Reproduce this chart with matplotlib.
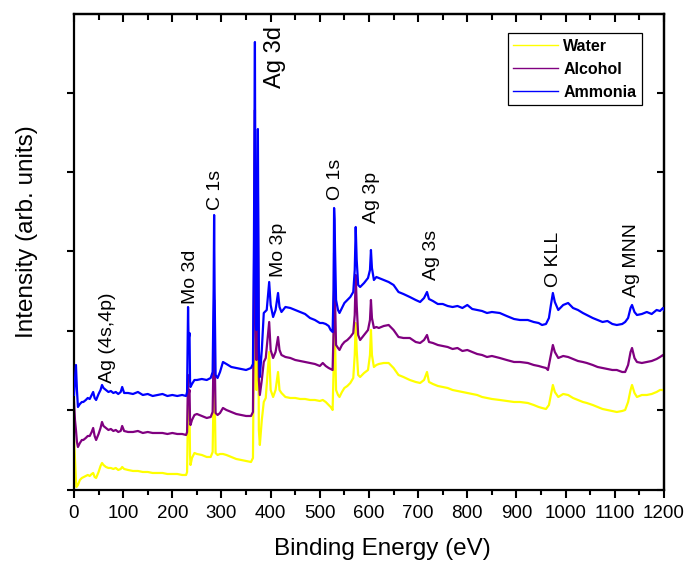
import matplotlib
matplotlib.use("Agg")
import matplotlib.pyplot as plt
from matplotlib.ticker import MultipleLocator, NullFormatter

plt.rcParams['font.family'] = ['Liberation Sans', 'DejaVu Sans']

# --- XPS survey spectra (arb. units) ---
water_E = [0, 2, 4, 5, 8, 12, 16, 20, 24, 28, 32, 36, 39, 42, 45, 50, 54, 57, 60, 65,
           70, 75, 80, 85, 90, 95, 98, 102, 110, 120, 130, 140, 150, 160, 170, 180, 190,
           200, 210, 220, 228, 230, 232, 233, 235, 236, 237, 240, 245, 250, 260, 270,
           278, 282, 284, 285, 286, 288, 292, 297, 303, 310, 320, 330, 340, 350, 360,
           364, 366, 368, 369, 371, 372, 374, 375, 376, 378, 382, 386, 390, 397, 400,
           405, 410, 415, 418, 422, 430, 440, 450, 460, 470, 480, 490, 500, 506, 512,
           518, 522, 526, 528, 529, 530, 531, 533, 537, 540, 545, 550, 556, 562, 568,
           571, 573, 575, 578, 582, 590, 598, 602, 604, 606, 610, 615, 620, 630, 640,
           650, 660, 670, 683, 695, 704, 712, 718, 722, 730, 740, 750, 760, 770, 780,
           790, 800, 810, 820, 830, 840, 850, 866, 880, 895, 907, 923, 935, 945, 952,
           960, 966, 970, 974, 978, 985, 995, 1005, 1015, 1025, 1035, 1043, 1055, 1065,
           1075, 1085, 1095, 1104, 1115, 1121, 1127, 1132, 1135, 1140, 1145, 1155, 1165,
           1175, 1185, 1192, 1198, 1200]
water_I = [52, 30, 10, 3, 5, 10, 12, 13, 14, 15, 14, 16, 17, 13, 12, 18, 24, 27, 25, 23,
           22, 22, 21, 22, 20, 21, 23, 21, 20, 19, 19, 18, 18, 17, 17, 17, 16,
           16, 16, 15, 15, 18, 85, 70, 75, 35, 25, 32, 37, 36, 35, 33,
           33, 38, 100, 140, 100, 37, 35, 36, 36, 35, 33, 31, 30, 29, 28,
           32, 150, 330, 150, 100, 150, 260, 150, 60, 45, 70, 88, 92, 138, 100,
           93, 100, 118, 100, 97, 93, 92, 92, 91, 91, 90, 90, 89, 90, 88,
           85, 83, 80, 120, 195, 180, 150, 100, 95, 93, 98, 102, 104, 107, 112,
           135, 167, 140, 115, 113, 117, 120, 135, 160, 135, 123, 125, 126, 127, 127,
           122, 115, 113, 110, 108, 107, 110, 118, 108, 106, 104, 103, 102, 100, 99,
           98, 97, 96, 95, 93, 92, 91, 90, 89, 88, 88, 87, 85, 83, 82,
           81, 85, 95, 105, 98, 93, 96, 95, 92, 90, 88, 87, 85, 83,
           81, 80, 79, 78, 79, 80, 88, 100, 105, 97, 93, 95, 95,
           96, 98, 100, 100, 99]

alcohol_E = [0, 2, 4, 6, 8, 12, 16, 19, 24, 28, 32, 36, 39, 42, 45, 50, 54, 57, 60, 65,
             70, 75, 80, 85, 90, 95, 98, 102, 110, 120, 130, 140, 150, 160, 170, 180, 190,
             200, 210, 220, 228, 230, 232, 233, 235, 236, 237, 240, 245, 250, 260, 270,
             278, 282, 284, 285, 286, 288, 292, 297, 303, 310, 320, 330, 340, 350, 360,
             364, 366, 368, 369, 371, 372, 374, 375, 376, 378, 382, 386, 390, 397, 400,
             405, 410, 415, 418, 422, 430, 440, 450, 460, 470, 480, 490, 500, 506, 512,
             518, 522, 526, 528, 529, 530, 531, 533, 537, 540, 545, 550, 556, 562, 568,
             571, 573, 575, 578, 582, 590, 598, 602, 604, 606, 610, 615, 620, 630, 640,
             650, 660, 670, 683, 695, 704, 712, 718, 722, 730, 740, 750, 760, 770, 780,
             790, 800, 810, 820, 830, 840, 850, 866, 880, 895, 907, 923, 935, 945, 952,
             960, 964, 968, 971, 974, 978, 985, 995, 1005, 1015, 1025, 1035, 1043, 1055,
             1065, 1075, 1085, 1095, 1104, 1115, 1121, 1127, 1132, 1135, 1140, 1145, 1155,
             1165, 1175, 1185, 1192, 1198, 1200]
alcohol_I = [88, 70, 60, 48, 43, 47, 50, 50, 52, 54, 54, 58, 62, 54, 50, 56, 62, 68, 64, 62,
             60, 61, 59, 60, 58, 59, 64, 59, 58, 58, 59, 57, 58, 57, 57, 57, 56,
             57, 56, 56, 55, 58, 115, 95, 100, 70, 65, 70, 75, 76, 74, 72,
             73, 78, 140, 190, 140, 77, 75, 77, 82, 80, 78, 76, 75, 74, 74,
             78, 200, 380, 200, 130, 200, 300, 200, 110, 95, 110, 128, 132, 168, 140,
             132, 138, 153, 140, 135, 133, 132, 130, 129, 128, 127, 126, 124, 127, 124,
             122, 121, 120, 160, 237, 225, 190, 145, 142, 140, 145, 148, 150, 153, 157,
             175, 215, 185, 155, 150, 155, 160, 170, 190, 172, 162, 163, 162, 164, 165,
             160, 153, 152, 152, 148, 147, 150, 155, 148, 147, 145, 144, 143, 141, 142,
             139, 140, 138, 136, 135, 133, 134, 132, 130, 128, 128, 127, 125, 124, 123,
             122, 120, 130, 138, 145, 138, 132, 134, 133, 131, 129, 128, 127, 125,
             123, 122, 121, 120, 120, 118, 118, 125, 138, 142, 132, 128, 127,
             128, 129, 131, 133, 135, 134]

ammonia_E = [0, 2, 4, 6, 8, 12, 16, 19, 24, 28, 32, 36, 39, 42, 45, 50, 54, 57, 60, 65,
             70, 75, 80, 85, 90, 95, 98, 102, 110, 120, 130, 140, 150, 160, 170, 180, 190,
             200, 210, 220, 228, 230, 232, 233, 235, 236, 237, 240, 245, 250, 260, 270,
             278, 282, 284, 285, 286, 288, 292, 297, 303, 310, 320, 330, 340, 350, 360,
             364, 366, 368, 369, 371, 372, 374, 375, 376, 378, 382, 386, 392, 397, 400,
             405, 410, 415, 418, 422, 430, 440, 450, 460, 470, 480, 490, 500, 506, 512,
             518, 522, 526, 528, 529, 530, 531, 533, 537, 540, 545, 550, 556, 562, 568,
             571, 573, 575, 578, 582, 590, 598, 602, 604, 606, 610, 615, 620, 630, 640,
             650, 660, 670, 683, 695, 704, 712, 718, 722, 730, 740, 750, 760, 770, 780,
             790, 800, 810, 820, 830, 840, 850, 866, 880, 895, 907, 923, 935, 945, 952,
             960, 966, 970, 974, 978, 985, 995, 1005, 1015, 1025, 1035, 1043, 1055, 1065,
             1075, 1085, 1095, 1104, 1115, 1121, 1127, 1132, 1135, 1140, 1145, 1155, 1165,
             1175, 1185, 1192, 1198, 1200]
ammonia_I = [95, 110, 125, 100, 83, 86, 88, 88, 90, 92, 91, 95, 98, 92, 90, 96, 100, 105, 102, 100,
             98, 99, 97, 98, 96, 98, 103, 97, 97, 96, 98, 95, 96, 94, 95, 96, 94,
             95, 94, 95, 94, 98, 183, 150, 157, 110, 103, 106, 110, 110, 111, 110,
             112, 118, 200, 275, 200, 115, 112, 118, 128, 126, 123, 122, 121, 120, 122,
             126, 250, 448, 250, 160, 250, 361, 250, 140, 113, 140, 177, 180, 208, 185,
             173, 180, 197, 183, 178, 183, 182, 180, 178, 176, 172, 170, 167, 167, 166,
             164, 160, 158, 200, 282, 270, 240, 190, 180, 177, 182, 187, 190, 193, 198,
             220, 263, 230, 205, 203, 207, 212, 220, 240, 222, 210, 213, 212, 210, 208,
             205, 198, 196, 193, 190, 188, 192, 198, 191, 189, 186, 186, 184, 183, 184,
             182, 185, 181, 180, 179, 177, 178, 177, 174, 171, 170, 170, 168, 167, 165,
             166, 172, 185, 197, 188, 180, 185, 187, 182, 180, 177, 175, 172, 170,
             168, 169, 166, 165, 166, 168, 172, 182, 185, 178, 175, 176, 178,
             176, 180, 179, 182, 180]

series_labels = ['Water', 'Alcohol', 'Ammonia']
series_colors = ['#ffff00', '#800080', '#0000ff']

# peak labels: (text, energy, intensity at label bottom)
peak_labels = ['Ag (4s,4p)', 'Mo 3d', 'C 1s', 'Ag 3d', 'Mo 3p', 'O 1s', 'Ag 3p',
               'Ag 3s', 'O KLL', 'Ag MNN']
peak_E = [69, 236, 287, 408, 415, 532, 606, 728, 976, 1133]
peak_I = [107, 186, 280, 402, 213, 290, 267, 210, 203, 193]

fig = plt.figure(figsize=(6.87, 5.63), dpi=100)
ax = fig.add_axes([0.1077, 0.1297, 0.8588, 0.8454])

data = [(water_E, water_I), (alcohol_E, alcohol_I), (ammonia_E, ammonia_I)]
for (E, I), lab, col, z in zip(data, series_labels, series_colors, [1, 2, 3]):
    ax.plot(E, I, color=col, lw=1.6, label=lab, zorder=z)

for txt, e, i in zip(peak_labels, peak_E, peak_I):
    fs = 17 if txt == 'Ag 3d' else 14
    ax.text(e, i, txt, rotation=90, ha='center', va='bottom', fontsize=fs, zorder=5)

ax.set_xlim(0, 1200)
ax.set_ylim(0, 476)
ax.xaxis.set_major_locator(MultipleLocator(100))
ax.xaxis.set_minor_locator(MultipleLocator(50))
ax.yaxis.set_major_locator(MultipleLocator(79.5))
ax.yaxis.set_major_formatter(NullFormatter())

for s in ax.spines.values():
    s.set_linewidth(1.6)
ax.tick_params(axis='x', which='major', direction='out', length=6, width=1.5, labelsize=13.5, pad=5)
ax.tick_params(axis='x', which='minor', direction='out', length=3.5, width=1.5)
ax.tick_params(axis='y', which='major', direction='out', length=5, width=1.5)

top = ax.secondary_xaxis('top')
top.xaxis.set_major_locator(MultipleLocator(100))
top.xaxis.set_minor_locator(MultipleLocator(50))
top.tick_params(axis='x', which='major', direction='in', length=6, width=1.5, labeltop=False)
top.tick_params(axis='x', which='minor', direction='in', length=4.5, width=1.5)
top.spines['top'].set_linewidth(1.6)

right = ax.secondary_yaxis('right')
right.yaxis.set_major_locator(MultipleLocator(79.5))
right.tick_params(axis='y', direction='in', length=5, width=1.5, labelright=False)
right.spines['right'].set_linewidth(1.6)

ax.set_xlabel('Binding Energy (eV)', fontsize=17.5)
ax.xaxis.set_label_coords(0.522, -0.101)
ax.set_ylabel('Intensity (arb. units)', fontsize=17.5)
ax.yaxis.set_label_coords(-0.061, 0.542)

leg = ax.legend(loc='upper right', bbox_to_anchor=(0.963, 0.960), borderaxespad=0,
                fancybox=False, edgecolor='black', framealpha=1,
                prop={'weight': 'bold', 'size': 11.5}, handlelength=2.8,
                handletextpad=0.35, labelspacing=0.5, borderpad=0.35)
leg.get_frame().set_linewidth(0.9)
for h in leg.get_lines():
    h.set_linewidth(1.0)

fig.savefig('out.png', dpi=100)
